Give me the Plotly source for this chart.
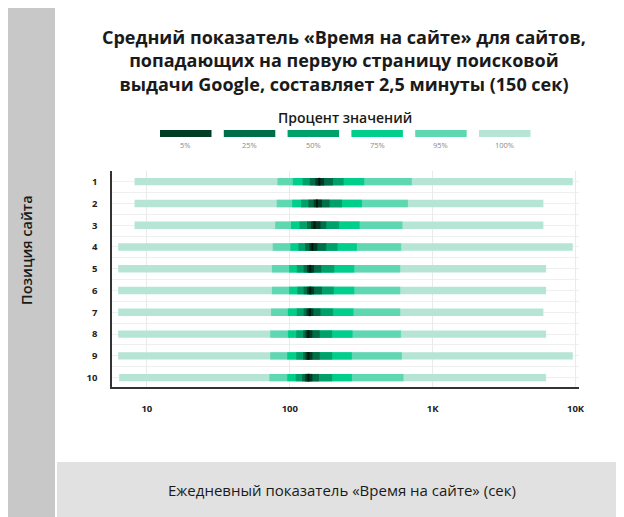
import plotly.graph_objects as go

# positions on the results page
positions = ["1", "2", "3", "4", "5", "6", "7", "8", "9", "10"]

# time on site, seconds: low/high edge of each percentile band
p100_lo = [8.2, 8.2, 8.2, 6.3, 6.3, 6.3, 6.3, 6.3, 6.3, 6.4]
p100_hi = [9560, 5950, 5950, 9560, 6220, 6220, 5950, 6220, 9560, 6220]
p95_lo = [82, 81, 79, 76, 75, 75, 74, 73, 73, 72]
p95_hi = [715, 671, 615, 602, 593, 593, 593, 600, 609, 625]
p75_lo = [105, 104, 102, 101, 99, 99, 97, 97, 96, 96]
p75_hi = [332, 320, 308, 295, 283, 283, 279, 275, 272, 272]
p50_lo = [123, 120, 117, 115, 112, 113, 112, 111, 111, 110]
p50_hi = [238, 232, 221, 216, 205, 203, 201, 198, 198, 198]
p25_lo = [138, 135, 132, 128, 125, 125, 125, 124, 124, 122]
p25_hi = [201, 190, 180, 180, 166, 168, 164, 162, 162, 160]
p5_lo = [151, 147, 141, 137, 132, 132, 131, 129, 129, 128]
p5_hi = [174, 168, 164, 156, 148, 148, 146, 144, 144, 144]
median = [161, 155, 149, 144, 139, 139, 138, 135, 135, 135]

band_names = ["5%", "25%", "50%", "75%", "95%", "100%"]
band_colors = ["#013d25", "#006e48", "#00a06b", "#00cf8b", "#5fd8b2", "#b6e5d6"]

x_tickvals = [10, 100, 1000, 10000]
x_ticktext = ["10", "100", "1K", "10K"]

# page has an 8px body margin, so the figure sits at (8, 8)
OFF = 8
W, H = 624 - OFF, 517 - OFF
L, R, T, B = 112 - OFF, 45, 171 - OFF, 130
pw, ph = W - L - R, H - T - B


def px(x):
    return (x - OFF - L) / pw


def py(y):
    return (H - B - (y - OFF)) / ph


rows = list(range(1, 11))
bands = [
    (p100_lo, p100_hi, band_colors[5]),
    (p95_lo, p95_hi, band_colors[4]),
    (p75_lo, p75_hi, band_colors[3]),
    (p50_lo, p50_hi, band_colors[2]),
    (p25_lo, p25_hi, band_colors[1]),
    (p5_lo, p5_hi, band_colors[0]),
]

fig = go.Figure()
for lo, hi, col in bands:
    fig.add_trace(go.Bar(
        y=rows, x=[h - l for l, h in zip(lo, hi)], base=lo,
        orientation="h", width=0.34, marker=dict(color=col, line=dict(width=0)),
        hoverinfo="skip", showlegend=False))

# median tick
fig.add_trace(go.Scatter(
    x=median, y=rows, mode="markers", hoverinfo="skip", showlegend=False,
    marker=dict(symbol="line-ns", size=5.5, line=dict(width=2, color="#00190d"))))

shapes = [
    # grey side band and bottom band
    dict(type="rect", xref="paper", yref="paper", x0=px(0), x1=px(55), y0=py(517), y1=py(0),
         fillcolor="#c8c8c8", line=dict(width=0), layer="below"),
    dict(type="rect", xref="paper", yref="paper", x0=px(57), x1=px(624), y0=py(517), y1=py(462),
         fillcolor="#e1e1e1", line=dict(width=0), layer="below"),
]

annotations = [
    dict(text="Средний показатель «Время на сайте» для сайтов,<br>"
              "попадающих на первую страницу поисковой<br>"
              "выдачи Google, составляет 2,5 минуты (150 сек)",
         xref="paper", yref="paper", x=px(344), y=py(60), showarrow=False,
         xanchor="center", yanchor="middle", align="center",
         font=dict(family="Open Sans", size=18, color="#1a1a1a", weight="bold")),
    dict(text="Процент значений", xref="paper", yref="paper", x=px(345), y=py(118),
         showarrow=False, xanchor="center", yanchor="middle",
         font=dict(family="Open Sans", size=14, color="#1a1a1a", weight=600)),
    dict(text="Позиция сайта", xref="paper", yref="paper", x=px(26), y=py(250),
         showarrow=False, textangle=-90, xanchor="center", yanchor="middle",
         font=dict(family="Open Sans", size=14.5, color="#1a1a1a", weight=600)),
    dict(text="Ежедневный показатель «Время на сайте» (сек)", xref="paper", yref="paper",
         x=px(342), y=py(490), showarrow=False, xanchor="center", yanchor="middle",
         font=dict(family="Open Sans", size=15, color="#1a1a1a")),
]

# legend swatches
for i, (name, col) in enumerate(zip(band_names, band_colors)):
    x0 = 160 + i * 63.8
    shapes.append(dict(type="rect", xref="paper", yref="paper", x0=px(x0), x1=px(x0 + 51.5),
                       y0=py(137), y1=py(130), fillcolor=col, line=dict(width=0)))
    annotations.append(dict(text=name, xref="paper", yref="paper", x=px(x0 + 25.7), y=py(145),
                            showarrow=False, xanchor="center", yanchor="middle",
                            font=dict(family="Open Sans", size=7.5, color="#8a8a8a")))

fig.update_layout(
    width=W, height=H,
    margin=dict(l=L, r=R, t=T, b=B),
    paper_bgcolor="white", plot_bgcolor="white",
    barmode="overlay", showlegend=False,
    shapes=shapes, annotations=annotations,
    xaxis=dict(type="log", range=[0.756, 4.024], tickvals=x_tickvals, ticktext=x_ticktext,
               showgrid=True, gridcolor="#eaeaea", gridwidth=1, zeroline=False,
               showline=True, linecolor="#333333", linewidth=1.5, ticks="",
               ticklabelstandoff=12,
               tickfont=dict(family="Open Sans", size=9.5, color="#222222", weight="bold")),
    yaxis=dict(range=[10.43, 0.51], tickvals=rows, ticktext=positions,
               showgrid=True, gridcolor="#efefef", gridwidth=1, zeroline=False,
               minor=dict(tickvals=[r + 0.5 for r in rows[:-1]], showgrid=True,
                          gridcolor="#efefef", gridwidth=1, ticks=""),
               showline=True, linecolor="#333333", linewidth=1.5, ticks="",
               ticklabelstandoff=11,
               tickfont=dict(family="Open Sans", size=9.5, color="#222222", weight="bold")),
)

fig.write_html("out.html")
